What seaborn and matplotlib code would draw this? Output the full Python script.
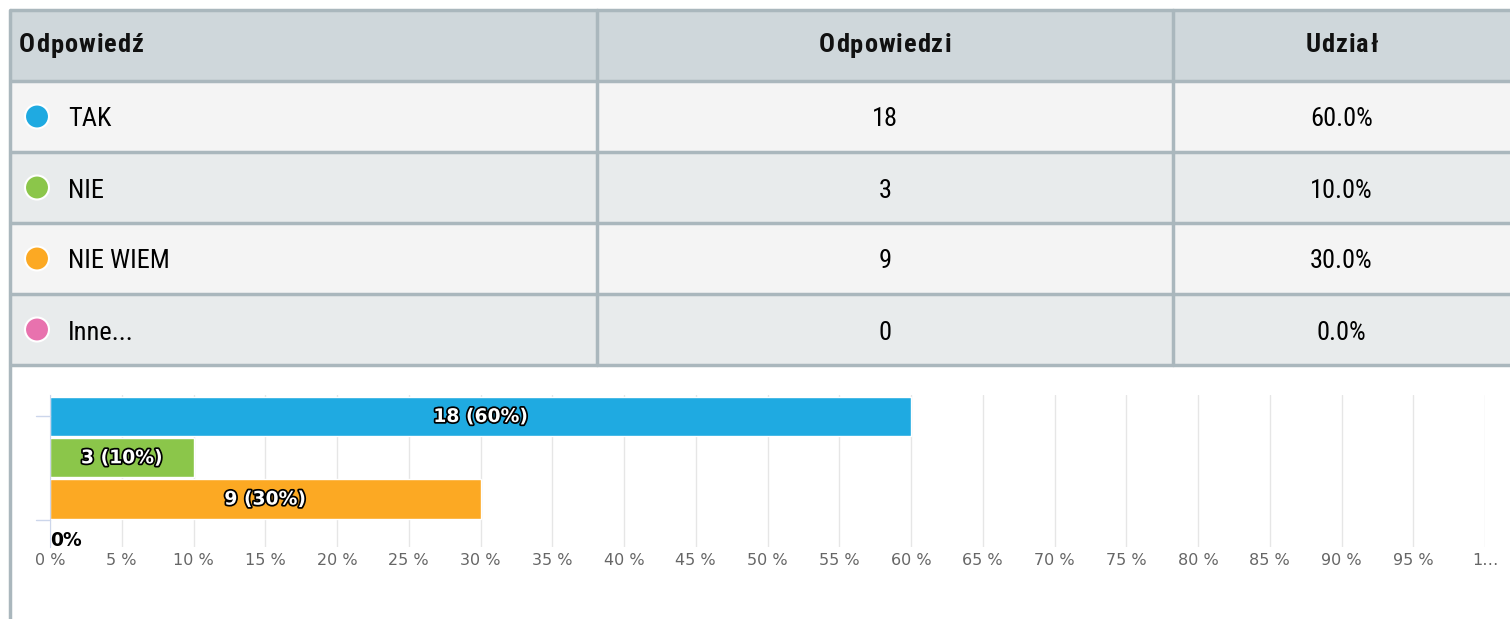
import matplotlib
matplotlib.use("Agg")
import matplotlib.pyplot as plt
import matplotlib.patheffects as pe
from matplotlib.patches import Rectangle, Circle
from matplotlib import font_manager
import seaborn as sn
import pandas as pd

# data
answers = ["TAK", "NIE", "NIE WIEM", "Inne..."]
counts = [18, 3, 9, 0]
shares = [60.0, 10.0, 30.0, 0.0]
colors = ["#1faae1", "#8bc64a", "#fca923", "#e872ae"]
headers = ["Odpowiedź", "Odpowiedzi", "Udział"]
xticks = list(range(0, 101, 5))

W, H = 1510, 619

sn.set_style("white")
plt.rcParams["font.family"] = ["DejaVu Sans"]


def find_narrow(bold):
    """look for any condensed / narrow font installed"""
    found = []
    for f in font_manager.fontManager.ttflist:
        st = str(f.stretch).lower()
        narrow = ("condensed" in st or "narrow" in f.name.lower()
                  or "condensed" in f.name.lower() or "condensed" in f.fname.lower())
        if not narrow or str(f.style) != "normal":
            continue
        w = f.weight if isinstance(f.weight, int) else font_manager.weight_dict.get(f.weight, 400)
        if (w >= 600) != bold:
            continue
        found.append(f)
    found.sort(key=lambda f: ("Liberation" not in f.name, "Roboto" not in f.name, f.name))
    if found:
        return font_manager.FontProperties(fname=found[0].fname)
    return font_manager.FontProperties(family="DejaVu Sans",
                                       weight="bold" if bold else "normal")


fp = find_narrow(False)
fpb = find_narrow(True)
fp.set_size(19)
fpb.set_size(19)

fig = plt.figure(figsize=(W / 100, H / 100), dpi=100)

# table drawn in pixel coordinates
bg = fig.add_axes([0, 0, 1, 1])
bg.set_xlim(0, W)
bg.set_ylim(H, 0)
bg.axis("off")

border = "#aab7bd"
row_top = [10, 81, 152, 223, 294]
row_h = 71
col_x = [10, 597, 1173, W]

bg.add_patch(Rectangle((10, 10), W - 10, row_h, facecolor="#cfd7db", edgecolor="none"))
for i in range(len(answers)):
    fc = "#f4f4f4" if i % 2 == 0 else "#e8ebec"
    bg.add_patch(Rectangle((10, row_top[i + 1]), W - 10, row_h, facecolor=fc, edgecolor="none"))

# grid lines of the table
for y in row_top + [365]:
    bg.plot([10, W], [y, y], color=border, lw=2.5, solid_capstyle="butt")
for x in col_x[1:3]:
    bg.plot([x, x], [10, 365], color=border, lw=2.5)
bg.plot([10, 10], [10, H], color=border, lw=2.5)


def spaced(x, y, s, ha):
    # header text with a bit of letter spacing
    r = fig.canvas.get_renderer()
    step = 1.0
    widths = []
    for ch in s:
        t = bg.text(0, 0, ch, fontproperties=fpb)
        widths.append(t.get_window_extent(r).width)
        t.remove()
    total = sum(widths) + step * (len(s) - 1)
    x0 = x - total / 2 if ha == "center" else x
    for ch, w in zip(s, widths):
        bg.text(x0, y, ch, fontproperties=fpb, color="#111111", ha="left", va="center")
        x0 += w + step


hdr_y = row_top[0] + row_h / 2
spaced(19, hdr_y, headers[0], "left")
spaced((col_x[1] + col_x[2]) / 2, hdr_y, headers[1], "center")
spaced((col_x[2] + col_x[3]) / 2, hdr_y, headers[2], "center")

for i, (a, c, s) in enumerate(zip(answers, counts, shares)):
    yc = row_top[i + 1] + row_h / 2 + 3
    bg.add_patch(Circle((37, yc - 3), 12, facecolor=colors[i], edgecolor="white", lw=1.5))
    bg.text(68, yc, a, fontproperties=fp, color="black", ha="left", va="center")
    bg.text((col_x[1] + col_x[2]) / 2, yc, str(c), fontproperties=fp, color="black",
            ha="center", va="center")
    bg.text((col_x[2] + col_x[3]) / 2, yc, f"{s:.1f}%", fontproperties=fp, color="black",
            ha="center", va="center")

# bar chart
left, right, top, bottom = 50, 1485, 395, 547
ax = fig.add_axes([left / W, 1 - bottom / H, (right - left) / W, (bottom - top) / H])
df = pd.DataFrame({"answer": answers, "share": shares})
sn.barplot(data=df, x="share", y="answer", hue="answer", palette=colors, saturation=1,
           width=0.95, orient="h", legend=False, ax=ax, edgecolor="white", linewidth=1)

ax.set_xlim(0, 100)
ax.set_ylim(3.16, -0.52)
ax.set_xticks(xticks)
ax.set_xticklabels([f"{v} %" for v in xticks[:-1]] + ["1…"], color="#666666", fontsize=11.5)
ax.set_yticks([])
ax.set_xlabel("")
ax.set_ylabel("")
ax.grid(axis="x", color="#e6e6e6", lw=1)
ax.set_axisbelow(True)
for sp in ["top", "right", "bottom"]:
    ax.spines[sp].set_visible(False)
ax.spines["left"].set_color("#ccd6eb")
ax.tick_params(axis="x", length=0, pad=4)

# little category ticks on the left, like the original
for yv in [0, 2.5]:
    ax.plot([-1.0, 0], [yv, yv], color="#ccd6eb", lw=1, clip_on=False)

for i, (c, s) in enumerate(zip(counts, shares)):
    if s > 0:
        ax.text(s / 2, i, f"{c} ({s:.0f}%)", color="white", fontsize=13.5, fontweight="bold",
                ha="center", va="center",
                path_effects=[pe.withStroke(linewidth=2.5, foreground="black")])
    else:
        ax.text(0, i, f"{s:.0f}%", color="black", fontsize=13.5, fontweight="bold",
                ha="left", va="center", clip_on=False)

fig.savefig("out.png", dpi=100)
